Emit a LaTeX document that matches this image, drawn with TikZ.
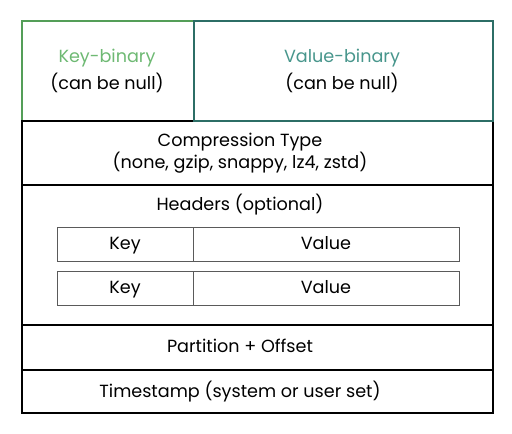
\documentclass[tikz,border=0pt]{standalone}
\usepackage{fontspec}
\setmainfont{Poppins}
\definecolor{keygreen}{RGB}{84,158,88}
\definecolor{keytext}{RGB}{110,185,115}
\definecolor{valteal}{RGB}{44,110,102}
\definecolor{valtext}{RGB}{72,150,140}
\definecolor{rowgray}{RGB}{90,90,90}

\begin{document}
\begin{tikzpicture}
[
    x=1pt, y=-1pt,
    font=\fontsize{17.6}{21}\selectfont,
    field/.style={draw=black, line width=2pt, anchor=north west, inner sep=0pt,
        minimum width=471pt},
    topbox/.style={line width=2pt, anchor=north west, inner sep=0pt,
        minimum height=100pt},
    rowcell/.style={draw=rowgray, line width=0.8pt, anchor=north west, inner sep=0pt,
        minimum height=34pt},
    label/.style={anchor=base, inner sep=0pt},
]
\useasboundingbox (0,0) rectangle (512,434);
% top pair
\node [topbox, draw=keygreen, minimum width=172pt] (keybin) at (21,20) {};
% record fields
\node [field, minimum height=64pt] (compress) at (21,120) {};
\node [field, minimum height=140pt] (headers) at (21,184) {};
\node [field, minimum height=45pt] (part) at (21,324) {};
\node [field, minimum height=43pt] (stamp) at (21,369) {};
\node [topbox, draw=valteal, minimum width=299pt] (valbin) at (193,20) {};
% header rows
\node [rowcell, minimum width=136pt] (hkeyA) at (57,227) {};
\node [rowcell, minimum width=266pt] (hvalA) at (193,227) {};
\node [rowcell, minimum width=136pt] (hkeyB) at (57,271) {};
\node [rowcell, minimum width=266pt] (hvalB) at (193,271) {};
% texts
\node [label, text=keytext] (keyname) at (107,62) {Key-binary};
\node [label] (keynull) at (107,89) {(can be null)};
\node [label, text=valtext] (valname) at (342,62) {Value-binary};
\node [label] (valnull) at (342,89) {(can be null)};
\node [label] (comptype) at (240,146) {Compression Type};
\node [label] (complist) at (240,168) {(none, gzip, snappy, lz4, zstd)};
\node [label] (htitle) at (240,210) {Headers (optional)};
\node [label] (hkeyAtext) at (125,249) {Key};
\node [label] (hvalAtext) at (326,249) {Value};
\node [label] (hkeyBtext) at (125,293) {Key};
\node [label] (hvalBtext) at (326,293) {Value};
\node [label] (parttext) at (240,352) {Partition + Offset};
\node [label] (stamptext) at (240,397) {Timestamp (system or user set)};
\end{tikzpicture}
\end{document}
